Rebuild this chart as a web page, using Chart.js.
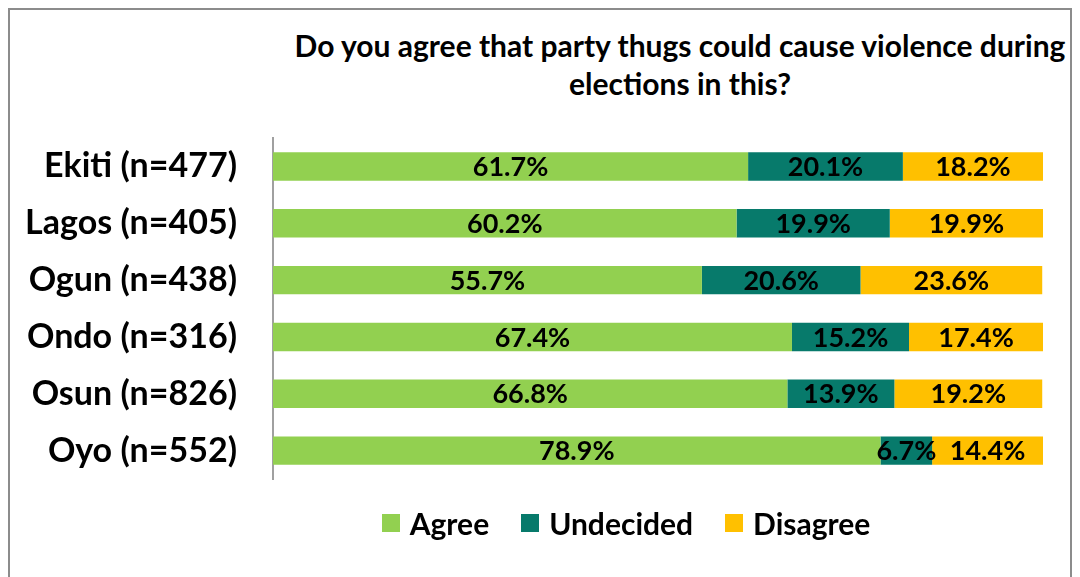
<!DOCTYPE html>
<html>
<head>
<meta charset="utf-8">
<script src="https://cdn.jsdelivr.net/npm/chart.js@4.4.1/dist/chart.umd.min.js"></script>
<style>
  body { margin: 0; background: #fff; font-family: Lato, 'Open Sans', sans-serif; }
  .page { position: relative; width: 1080px; height: 577px; overflow: hidden; }
  .frame { position: absolute; left: 8px; top: 8px; width: 1060px; height: 600px;
           border: 2px solid #8c8c8c; border-bottom: none; }
  .title { position: absolute; left: 270px; top: 26px; width: 820px; text-align: center;
           font-weight: bold; font-size: 30px; line-height: 38px; color: #000; }
  .chart { position: absolute; left: 0; top: 0; width: 1080px; height: 577px; }
  #legend { position: absolute; left: 326px; top: 505px; width: 600px; }
  #legend ul { display: flex; justify-content: center; margin: 0; padding: 0; list-style: none; }
  #legend li { display: flex; align-items: center; margin: 0 16px; font-weight: bold;
               font-size: 30px; color: #000; }
  #legend span.box { width: 18px; height: 18px; margin-right: 10px; display: inline-block; }
</style>
</head>
<body>
<div class="page">
  <div class="frame"></div>
  <div class="title">Do you agree that party thugs could cause violence during<br>elections in this?</div>
  <div class="chart"><canvas id="myChart"></canvas></div>
  <div id="legend"></div>
</div>
<script>
const states = ['Ekiti (n=477)', 'Lagos (n=405)', 'Ogun (n=438)', 'Ondo (n=316)', 'Osun (n=826)', 'Oyo (n=552)'];
const agree = [61.7, 60.2, 55.7, 67.4, 66.8, 78.9];
const undecided = [20.1, 19.9, 20.6, 15.2, 13.9, 6.7];
const disagree = [18.2, 19.9, 23.6, 17.4, 19.2, 14.4];

// writes the percentage in the middle of every bar piece
const barLabels = {
  id: 'barLabels',
  afterDatasetsDraw(chart) {
    const ctx = chart.ctx;
    ctx.save();
    ctx.font = 'bold 27px Lato';
    ctx.fillStyle = '#000';
    ctx.textAlign = 'center';
    ctx.textBaseline = 'middle';
    chart.data.datasets.forEach((ds, i) => {
      chart.getDatasetMeta(i).data.forEach((bar, j) => {
        const p = bar.getProps(['x', 'y', 'base'], true);
        ctx.fillText(ds.data[j].toFixed(1) + '%', (p.x + p.base) / 2, p.y + 1);
      });
    });
    ctx.restore();
  }
};

// legend as html, built from the chart's own legend items
const htmlLegend = {
  id: 'htmlLegend',
  afterUpdate(chart) {
    const box = document.getElementById('legend');
    box.innerHTML = '';
    const ul = document.createElement('ul');
    const items = chart.options.plugins.legend.labels.generateLabels(chart);
    for (const item of items) {
      const li = document.createElement('li');
      const sq = document.createElement('span');
      sq.className = 'box';
      sq.style.background = item.fillStyle;
      li.appendChild(sq);
      li.appendChild(document.createTextNode(item.text));
      ul.appendChild(li);
    }
    box.appendChild(ul);
  }
};

const ctx = document.getElementById('myChart').getContext('2d');
new Chart(ctx, {
  type: 'bar',
  data: {
    labels: states,
    datasets: [
      { label: 'Agree', data: agree, backgroundColor: '#92D050' },
      { label: 'Undecided', data: undecided, backgroundColor: '#077A6B' },
      { label: 'Disagree', data: disagree, backgroundColor: '#FFC000' },
    ],
  },
  options: {
    indexAxis: 'y',
    responsive: true,
    maintainAspectRatio: false,
    animation: false,
    barPercentage: 0.5,
    categoryPercentage: 1,
    layout: { padding: { top: 138, bottom: 98, left: 20, right: 37 } },
    scales: {
      x: { stacked: true, min: 0, max: 100, display: false },
      y: {
        stacked: true,
        grid: { display: false, drawTicks: false },
        border: { display: true, color: '#a0a0a0', width: 2 },
        ticks: { color: '#000', padding: 36, font: { family: 'Lato', size: 34, weight: 'bold' } },
        afterFit(scale) { scale.width = 253; },
      },
    },
    plugins: {
      legend: { display: false },
      title: { display: false },
      tooltip: { enabled: false },
    },
  },
  plugins: [barLabels, htmlLegend],
});
</script>
</body>
</html>
